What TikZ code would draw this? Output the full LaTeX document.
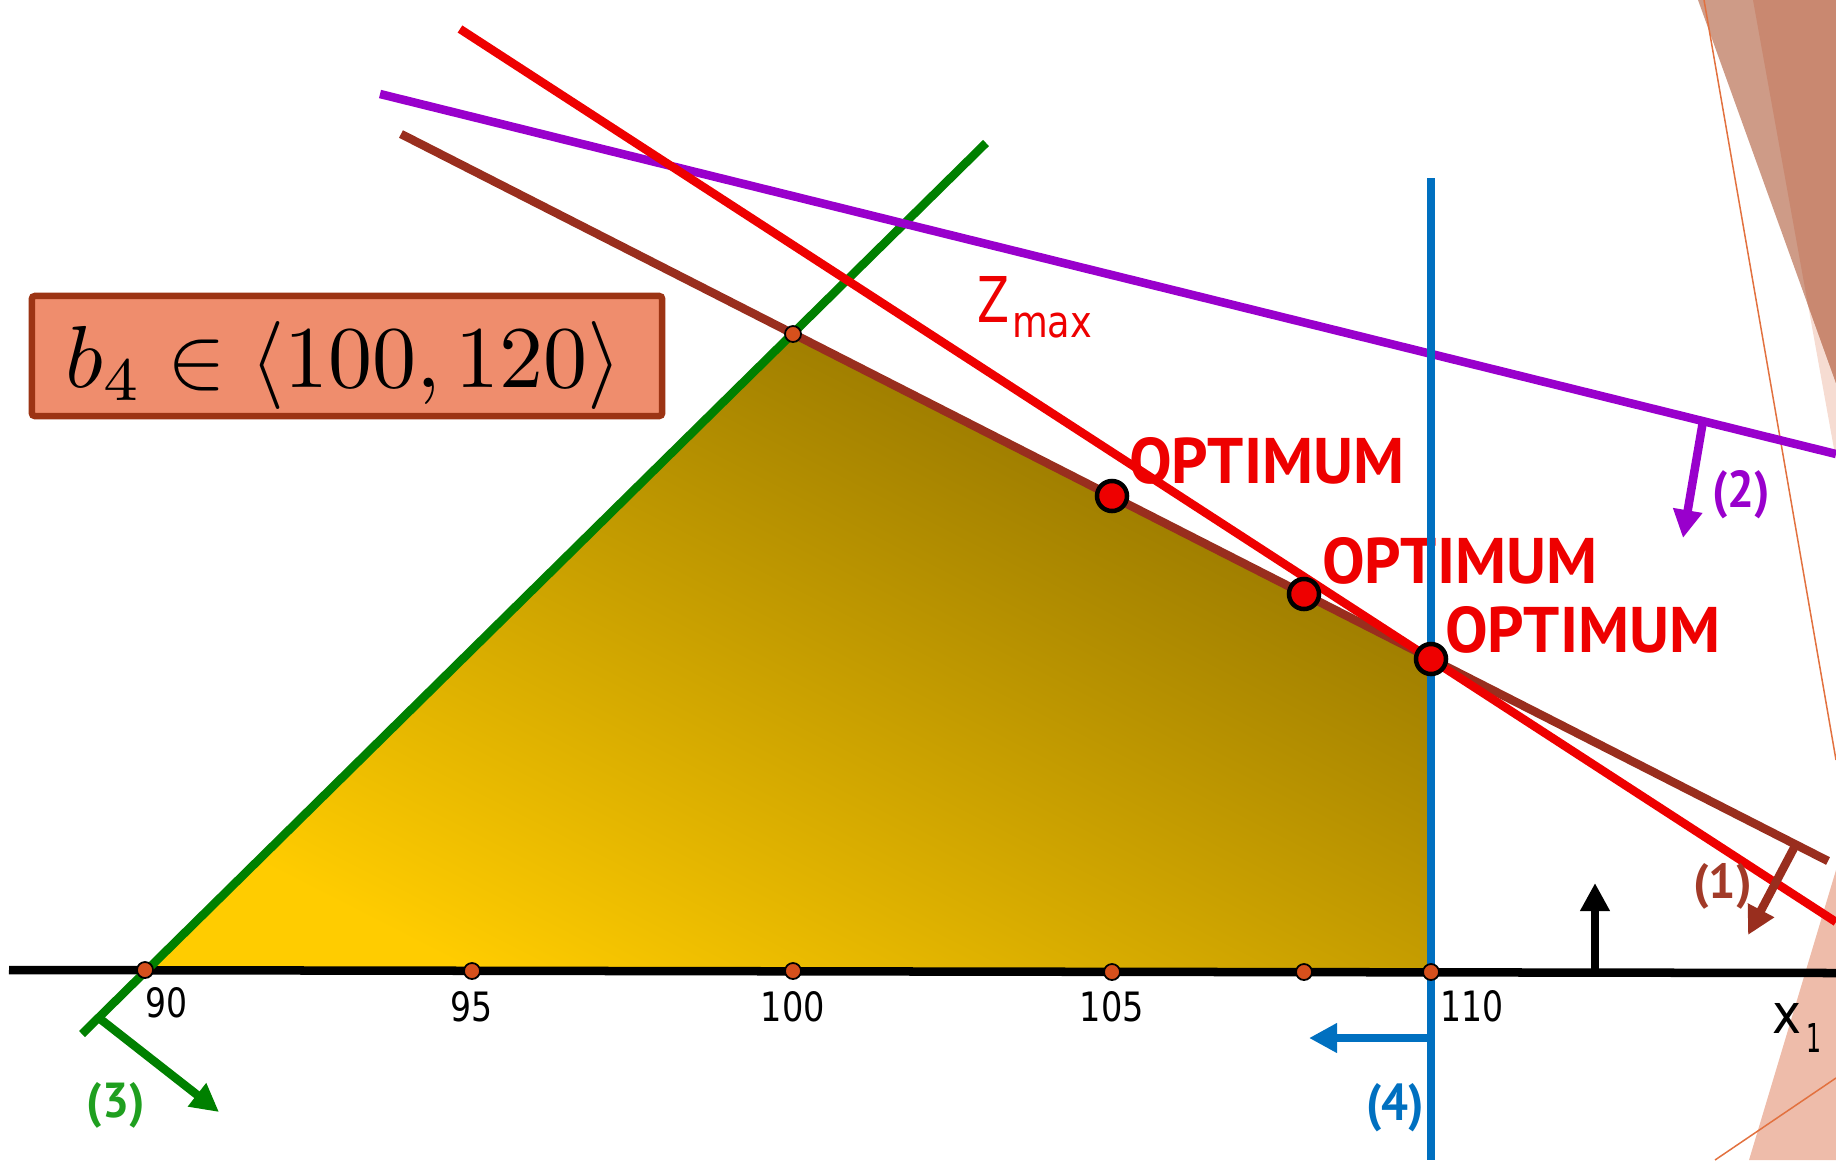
\documentclass[tikz,border=0pt]{standalone}
\usepackage{fontspec}
\usepackage{graphicx}
\usetikzlibrary{arrows.meta,calc}
\newfontfamily\tahfont{DejaVu Sans}
\newfontfamily\optfont{PT Sans}
\definecolor{cgreen}{HTML}{008000}
\definecolor{cgreenT}{HTML}{1F9F1F}
\definecolor{cbrown}{HTML}{992E1E}
\definecolor{cbrownT}{HTML}{A23A28}
\definecolor{cred}{HTML}{EE0000}
\definecolor{cpurple}{HTML}{9900CC}
\definecolor{cblue}{HTML}{0070C0}
\definecolor{cdot}{HTML}{D6501C}
\definecolor{boxfill}{HTML}{EF8D6D}
\definecolor{boxdraw}{HTML}{9C3414}
\definecolor{ylw}{HTML}{FFCC00}
\definecolor{olive}{HTML}{8E7000}
\definecolor{decoA}{HTML}{F6DCD2}
\definecolor{decoB}{HTML}{CE9B87}
\definecolor{decoC}{HTML}{C98870}
\definecolor{decoD}{HTML}{EEBCAA}
\definecolor{decoL}{HTML}{E2713F}
\tikzset{
  cline/.style={line width=0.085cm},
  normarrow/.style={line width=0.085cm, -{Triangle[length=0.28cm,width=0.28cm]}},
  tickdot/.style={circle, fill=cdot, draw=black, line width=0.5pt, inner sep=0pt, minimum size=0.16cm},
  optdot/.style={circle, fill=cred, draw=black, line width=0.045cm, inner sep=0pt, minimum size=0.30cm},
  lbl/.style={inner sep=0pt, outer sep=0pt},
  thinline/.style={draw=decoL, line width=0.015cm},
}
\begin{document}
\begin{tikzpicture}[x=0.01cm,y=-0.01cm]
\useasboundingbox (0,0) rectangle (1836,1160);
\begin{scope}
\clip (0,0) rectangle (1836,1160);
% decorations
\fill[decoA] (1753,0) -- (1836,0) -- (1836,460) -- cycle;
\fill[decoB] (1698,0) -- (1836,0) -- (1836,383) -- cycle;
\fill[decoC] (1753,0) -- (1836,0) -- (1836,383) -- (1808,305) -- cycle;
\draw[thinline] (1704,0) -- (1836,760);
\fill[decoD] (1836,870) -- (1749,1160) -- (1836,1160) -- cycle;
\draw[thinline] (1836,1078) -- (1715,1160);

% feasible region
\coordinate (P90) at (145,970);
\coordinate (Ptop) at (793,334);
\coordinate (Popt3) at (1431,659);
\coordinate (P110) at (1431,972);
\shade[top color=olive, bottom color=ylw, shading angle=-27] (P90) -- (Ptop) -- (Popt3) -- (P110) -- cycle;

% axis
\coordinate (axL) at (9,970);
\coordinate (axR) at (1836,973);
\draw[cline, black] (axL) -- (axR);

% constraint lines
\coordinate (g1) at (82,1034);
\coordinate (g2) at (986,143);
\draw[cline, cgreen] (g1) -- (g2);
\coordinate (b1) at (401,134);
\coordinate (b2) at (1828,861);
\draw[cline, cbrown] (b1) -- (b2);
\coordinate (p1) at (380,94);
\coordinate (p2) at (1836,454);
\draw[cline, cpurple] (p1) -- (p2);
\coordinate (r1) at (460,29);
\coordinate (r2) at (1836,922);
\draw[cline, cred] (r1) -- (r2);

% normal arrows
\coordinate (a1s) at (1795,846);
\coordinate (a1e) at (1748,935);
\draw[normarrow, cbrown] (a1s) -- (a1e);
\coordinate (a2s) at (1703,421);
\coordinate (a2e) at (1683,538);
\draw[normarrow, cpurple] (a2s) -- (a2e);
\coordinate (a3s) at (99,1018);
\coordinate (a3e) at (219,1112);
\draw[normarrow, cgreen] (a3s) -- (a3e);
\coordinate (a4s) at (1431,1038);
\coordinate (a4e) at (1309,1038);
\draw[normarrow, cblue] (a4s) -- (a4e);
\coordinate (a5s) at (1595,972);
\coordinate (a5e) at (1595,883);
\draw[normarrow, black] (a5s) -- (a5e);

% labels
\node[lbl, anchor=base west, text=cred] (opt1) at (1129,483) {\resizebox{2.75cm}{0.46cm}{\optfont\bfseries OPTIMUM}};
\node[lbl, anchor=base west, text=cred] (opt2) at (1322,583) {\resizebox{2.75cm}{0.46cm}{\optfont\bfseries OPTIMUM}};
\node[lbl, anchor=base west, text=cred] (opt3) at (1445,652) {\resizebox{2.75cm}{0.46cm}{\optfont\bfseries OPTIMUM}};

% blue line (over text)
\coordinate (u1) at (1431,178);
\coordinate (u2) at (1431,1160);
\draw[cline, cblue] (u1) -- (u2);

\node[lbl, anchor=base west, text=cred] (zlab) at (977,322) {\resizebox{0.32cm}{0.46cm}{\tahfont Z}};
\node[lbl, anchor=base west, text=cred] (zmax) at (1012,337) {\resizebox{0.80cm}{0.245cm}{\tahfont max}};

\node[lbl, anchor=base west, text=cbrownT] (l1) at (1693,898) {\resizebox{0.59cm}{0.35cm}{\optfont\bfseries (1)}};
\node[lbl, anchor=base west, text=cpurple] (l2) at (1712,507) {\resizebox{0.58cm}{0.37cm}{\optfont\bfseries (2)}};
\node[lbl, anchor=base west, text=cgreenT] (l3) at (87,1117) {\resizebox{0.58cm}{0.35cm}{\optfont\bfseries (3)}};
\node[lbl, anchor=base west, text=cblue] (l4) at (1366,1120) {\resizebox{0.58cm}{0.37cm}{\optfont\bfseries (4)}};

\node[lbl, anchor=base] (t90) at (167,1017) {\resizebox{0.42cm}{0.30cm}{\tahfont 90}};
\node[lbl, anchor=base] (t95) at (472,1021) {\resizebox{0.42cm}{0.30cm}{\tahfont 95}};
\node[lbl, anchor=base] (t100) at (793,1021) {\resizebox{0.64cm}{0.30cm}{\tahfont 100}};
\node[lbl, anchor=base] (t105) at (1112,1021) {\resizebox{0.64cm}{0.30cm}{\tahfont 105}};
\node[lbl, anchor=base west] (t110) at (1440,1021) {\resizebox{0.63cm}{0.31cm}{\tahfont 110}};

\node[lbl, anchor=base west] (xl) at (1772,1033) {\resizebox{0.29cm}{0.30cm}{\tahfont x}};
\node[lbl, anchor=base west] (xs) at (1806,1052) {\resizebox{0.15cm}{0.29cm}{\tahfont 1}};

% dots
\node[tickdot] (d90) at (145,970) {};
\node[tickdot] (d95) at (472,971) {};
\node[tickdot] (d100) at (793,971) {};
\node[tickdot] (d105) at (1112,972) {};
\node[tickdot] (d108) at (1304,972) {};
\node[tickdot] (d110) at (1431,972) {};
\node[tickdot] (dtop) at (Ptop) {};
\node[optdot] (o1) at (1112,496) {};
\node[optdot] (o2) at (1304,594) {};
\node[optdot] (o3) at (Popt3) {};

% box
\node[draw=boxdraw, fill=boxfill, line width=0.065cm, rounded corners=0.03cm, minimum width=6.30cm, minimum height=1.20cm, inner sep=0pt] (bbox) at (347,356) {};
\node[lbl, anchor=base] (btext) at (344,387) {\resizebox{5.56cm}{!}{$b_4 \in \langle 100, 120\rangle$}};
\end{scope}
\end{tikzpicture}
\end{document}
